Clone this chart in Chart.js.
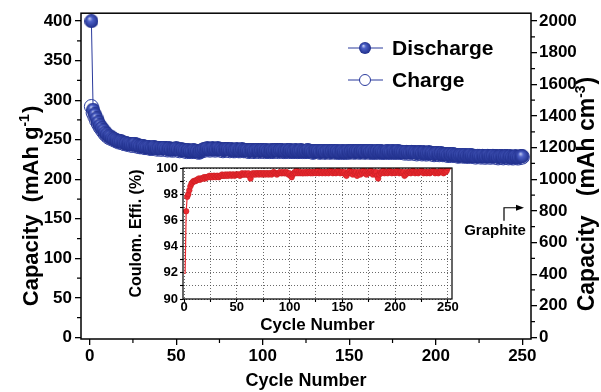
<!DOCTYPE html>
<html>
<head>
<meta charset="utf-8">
<script src="https://cdn.jsdelivr.net/npm/chart.js@4.4.0/dist/chart.umd.min.js"></script>
<style>
  html, body { margin: 0; padding: 0; background: #fff; }
  #wrap { position: relative; width: 601px; height: 392px; }
  #main { position: absolute; left: 0; top: 0; }
  #inset { position: absolute; left: 100px; top: 150px; }
</style>
</head>
<body>
<div id="wrap">
  <canvas id="main" width="601" height="392"></canvas>
  <canvas id="inset" width="370" height="190"></canvas>
</div>
<script>
// discharge / charge capacity (mAh g-1), cycle 1..250
const discharge = [
  400, 288, 282, 277, 272, 268, 265, 262, 259, 257,
  255, 254, 252, 251, 250, 249, 248, 248, 247, 246,
  246, 245, 245, 244, 244, 245, 243, 243, 242, 242,
  242, 241, 241, 241, 240, 240, 241, 240, 239, 240,
  239, 239, 240, 239, 238, 239, 238, 238, 238, 239,
  238, 237, 238, 237, 237, 236, 237, 236, 236, 237,
  236, 236, 235, 236, 237, 238, 238, 239, 238, 238,
  239, 238, 238, 239, 238, 238, 237, 238, 238, 238,
  237, 238, 237, 237, 238, 237, 237, 238, 237, 237,
  237, 236, 237, 237, 236, 237, 237, 236, 237, 237,
  236, 237, 236, 236, 237, 236, 237, 237, 236, 237,
  237, 236, 236, 237, 236, 237, 236, 236, 237, 236,
  236, 237, 236, 236, 236, 237, 236, 236, 235, 236,
  236, 236, 235, 236, 236, 235, 236, 236, 235, 236,
  236, 235, 236, 235, 235, 236, 235, 235, 236, 235,
  236, 236, 235, 236, 236, 235, 236, 236, 235, 236,
  236, 235, 236, 235, 235, 236, 235, 236, 235, 235,
  235, 236, 235, 235, 236, 235, 235, 236, 235, 235,
  235, 234, 235, 234, 234, 235, 234, 234, 233, 234,
  234, 233, 234, 233, 233, 234, 233, 233, 232, 233,
  233, 232, 233, 232, 232, 232, 231, 232, 231, 232,
  231, 231, 230, 231, 231, 230, 231, 230, 230, 231,
  230, 230, 229, 230, 230, 229, 230, 229, 229, 230,
  229, 229, 230, 229, 229, 228, 229, 229, 228, 229,
  229, 228, 229, 228, 228, 229, 228, 228, 229, 229
];
const charge = [
  292, 284, 279, 274, 270, 266, 263, 260, 257, 255,
  253, 252, 251, 250, 249, 248, 247, 247, 246, 245,
  245, 244, 244, 243, 243, 244, 242, 242, 241, 241,
  241, 240, 240, 240, 239, 239, 240, 239, 238, 239,
  238, 238, 239, 238, 237, 238, 237, 237, 237, 238,
  237, 236, 237, 236, 236, 235, 236, 235, 235, 236,
  235, 235, 234, 235, 236, 237, 237, 238, 237, 237,
  238, 237, 237, 238, 237, 237, 236, 237, 237, 237,
  236, 237, 236, 236, 237, 236, 236, 237, 236, 236,
  236, 235, 236, 236, 235, 236, 236, 235, 236, 236,
  235, 236, 235, 235, 236, 235, 236, 236, 235, 236,
  236, 235, 235, 236, 235, 236, 235, 235, 236, 235,
  235, 236, 235, 235, 235, 236, 235, 235, 234, 235,
  235, 235, 234, 235, 235, 234, 235, 235, 234, 235,
  235, 234, 235, 234, 234, 235, 234, 234, 235, 234,
  235, 235, 234, 235, 235, 234, 235, 235, 234, 235,
  235, 234, 235, 234, 234, 235, 234, 235, 234, 234,
  234, 235, 234, 234, 235, 234, 234, 235, 234, 234,
  234, 233, 234, 233, 233, 234, 233, 233, 232, 233,
  233, 232, 233, 232, 232, 233, 232, 232, 231, 232,
  232, 231, 232, 231, 231, 231, 230, 231, 230, 231,
  230, 230, 229, 230, 230, 229, 230, 229, 229, 230,
  229, 229, 228, 229, 229, 228, 229, 228, 228, 229,
  228, 228, 229, 228, 228, 227, 228, 228, 227, 228,
  228, 227, 228, 227, 227, 228, 227, 227, 228, 228
];
// coulombic efficiency (%)
const efficiency = [
  91.9, 96.7, 97.8, 98.0, 98.3, 98.6, 98.8, 98.9, 99.0, 99.0,
  99.0, 99.1, 99.1, 99.2, 99.1, 99.2, 99.2, 99.2, 99.3, 99.2,
  99.3, 99.3, 99.3, 99.4, 99.3, 99.4, 99.3, 99.4, 99.4, 99.3,
  99.4, 99.4, 99.3, 99.4, 99.4, 99.5, 99.4, 99.4, 99.5, 99.4,
  99.5, 99.4, 99.5, 99.5, 99.4, 99.5, 99.5, 99.4, 99.5, 99.5,
  99.5, 99.5, 99.4, 99.5, 99.6, 99.5, 99.5, 99.6, 99.5, 99.5,
  99.6, 99.4, 99.2, 99.5, 99.6, 99.5, 99.6, 99.5, 99.6, 99.6,
  99.5, 99.6, 99.6, 99.5, 99.6, 99.6, 99.5, 99.6, 99.6, 99.5,
  99.6, 99.6, 99.5, 99.6, 99.7, 99.6, 99.6, 99.5, 99.6, 99.6,
  99.7, 99.6, 99.6, 99.7, 99.6, 99.6, 99.7, 99.6, 99.5, 99.6,
  99.4, 99.3, 99.5, 99.6, 99.7, 99.6, 99.8, 99.6, 99.7, 99.6,
  99.7, 99.6, 99.6, 99.7, 99.6, 99.7, 99.6, 99.7, 99.7, 99.6,
  99.7, 99.6, 99.7, 99.7, 99.6, 99.7, 99.8, 99.6, 99.7, 99.7,
  99.6, 99.7, 99.7, 99.6, 99.7, 99.7, 99.6, 99.7, 99.8, 99.7,
  99.6, 99.7, 99.7, 99.6, 99.7, 99.8, 99.7, 99.6, 99.7, 99.7,
  99.6, 99.7, 99.5, 99.4, 99.6, 99.7, 99.8, 99.6, 99.7, 99.5,
  99.7, 99.6, 99.7, 99.4, 99.6, 99.7, 99.5, 99.7, 99.6, 99.8,
  99.6, 99.7, 99.5, 99.7, 99.6, 99.7, 99.8, 99.6, 99.5, 99.7,
  99.6, 99.7, 99.4, 99.2, 99.5, 99.7, 99.6, 99.7, 99.8, 99.6,
  99.7, 99.7, 99.6, 99.7, 99.8, 99.7, 99.6, 99.7, 99.7, 99.6,
  99.7, 99.8, 99.7, 99.6, 99.7, 99.7, 99.6, 99.7, 99.4, 99.5,
  99.7, 99.6, 99.7, 99.7, 99.6, 99.7, 99.8, 99.7, 99.6, 99.7,
  99.7, 99.6, 99.7, 99.7, 99.8, 99.7, 99.6, 99.7, 99.7, 99.6,
  99.7, 99.7, 99.6, 99.7, 99.7, 99.8, 99.7, 99.6, 99.7, 99.7,
  99.6, 99.7, 99.7, 99.8, 99.7, 99.6, 99.7, 99.7, 99.8, 100.0
];
const cycles = discharge.map((_, i) => i + 1);

const xTicks = [0, 50, 100, 150, 200, 250];
const xMinorTicks = [25, 75, 125, 175, 225];
const leftTicks = [0, 50, 100, 150, 200, 250, 300, 350, 400];
const leftMinorTicks = [25, 75, 125, 175, 225, 275, 325, 375];
const rightTicks = [0, 200, 400, 600, 800, 1000, 1200, 1400, 1600, 1800, 2000];
const rightMinorTicks = [100, 300, 500, 700, 900, 1100, 1300, 1500, 1700, 1900];
const insetXTicks = [0, 25, 50, 75, 100, 125, 150, 175, 200, 225, 250];
const insetYTicks = [90, 91, 92, 93, 94, 95, 96, 97, 98, 99, 100];
const graphiteLevel = 820; // mAh cm-3

const FONT = '"Liberation Sans", Arial, "DejaVu Sans", sans-serif';
const blue = '#2a3a9c';
const red = '#ec2a30';

function makeBall(r) {
  const c = document.createElement('canvas');
  c.width = c.height = r * 2;
  const g = c.getContext('2d');
  const grad = g.createRadialGradient(r * 0.7, r * 0.6, 0, r, r, r);
  grad.addColorStop(0, '#d4dbf6');
  grad.addColorStop(0.35, '#4e62c8');
  grad.addColorStop(1, '#1f2e8a');
  g.fillStyle = grad;
  g.beginPath();
  g.arc(r, r, r, 0, Math.PI * 2);
  g.fill();
  return c;
}
const ball = makeBall(7);
const legendBall = makeBall(6);

// rotated axis title with a superscript part, reading bottom to top
function drawTitle(ctx, cx, cy, main, sup, tail, size) {
  const big = 'bold ' + size + 'px ' + FONT;
  const small = 'bold ' + Math.round(size * 0.62) + 'px ' + FONT;
  ctx.save();
  ctx.translate(cx, cy);
  ctx.rotate(-Math.PI / 2);
  ctx.fillStyle = '#000';
  ctx.textBaseline = 'alphabetic';
  ctx.font = big;
  const w1 = ctx.measureText(main).width;
  const w3 = ctx.measureText(tail).width;
  ctx.font = small;
  const w2 = ctx.measureText(sup).width;
  let x = -(w1 + w2 + w3 + 1) / 2;
  const base = size * 0.36;
  ctx.font = big;
  ctx.fillText(main, x, base);
  x += w1;
  ctx.font = small;
  ctx.fillText(sup, x, base - size * 0.42);
  x += w2 + 1;
  ctx.font = big;
  ctx.fillText(tail, x, base);
  ctx.restore();
}

const setTicks = list => scale => { scale.ticks = list.map(v => ({ value: v })); };
const tickFont = { family: FONT, size: 17, weight: 'bold' };
const axisGrid = { display: true, drawOnChartArea: false, drawTicks: true, tickLength: 6, color: '#000', lineWidth: 1.3 };

const mainDecor = {
  id: 'mainDecor',
  afterDraw(chart) {
    const { ctx, chartArea: a, scales } = chart;
    ctx.save();
    ctx.strokeStyle = '#000';
    ctx.lineWidth = 1.5;
    ctx.strokeRect(a.left, a.top, a.right - a.left, a.bottom - a.top);

    // minor ticks
    ctx.lineWidth = 1.2;
    ctx.beginPath();
    leftMinorTicks.forEach(v => {
      const y = scales.y.getPixelForValue(v);
      ctx.moveTo(a.left, y); ctx.lineTo(a.left - 4, y);
    });
    rightMinorTicks.forEach(v => {
      const y = scales.yRight.getPixelForValue(v);
      ctx.moveTo(a.right, y); ctx.lineTo(a.right + 4, y);
    });
    xMinorTicks.forEach(v => {
      const x = scales.x.getPixelForValue(v);
      ctx.moveTo(x, a.bottom); ctx.lineTo(x, a.bottom + 4);
    });
    ctx.stroke();

    // y titles
    drawTitle(ctx, 30, 206, 'Capacity  (mAh g', '-1', ')', 22);
    drawTitle(ctx, 586, 194, 'Capacity   (mAh cm', '-3', ')', 23);

    // legend
    const items = [['Discharge', 48, true], ['Charge', 80, false]];
    ctx.font = 'bold 21px ' + FONT;
    ctx.textBaseline = 'middle';
    items.forEach(([label, y, filled]) => {
      ctx.strokeStyle = blue;
      ctx.lineWidth = 1;
      ctx.beginPath();
      ctx.moveTo(348, y); ctx.lineTo(383, y);
      ctx.stroke();
      if (filled) {
        ctx.drawImage(legendBall, 365 - 6, y - 6);
      } else {
        ctx.fillStyle = '#fff';
        ctx.beginPath();
        ctx.arc(365, y, 5.5, 0, Math.PI * 2);
        ctx.fill();
        ctx.stroke();
      }
      ctx.fillStyle = '#000';
      ctx.fillText(label, 392, y + 1);
    });

    // graphite marker
    const gy = scales.yRight.getPixelForValue(graphiteLevel);
    ctx.strokeStyle = '#000';
    ctx.fillStyle = '#000';
    ctx.lineWidth = 1.2;
    ctx.beginPath();
    ctx.moveTo(504, gy + 13); ctx.lineTo(504, gy); ctx.lineTo(517, gy);
    ctx.stroke();
    ctx.beginPath();
    ctx.moveTo(524, gy); ctx.lineTo(516, gy - 3); ctx.lineTo(516, gy + 3);
    ctx.closePath();
    ctx.fill();
    ctx.font = 'bold 15px ' + FONT;
    ctx.textAlign = 'center';
    ctx.fillText('Graphite', 495, gy + 23);
    ctx.restore();
  }
};

new Chart(document.getElementById('main'), {
  type: 'line',
  data: {
    datasets: [
      {
        label: 'Discharge',
        data: cycles.map((c, i) => ({ x: c, y: discharge[i] })),
        borderColor: blue,
        borderWidth: 1,
        pointStyle: ball,
        pointRadius: 7,
        yAxisID: 'y'
      },
      {
        label: 'Charge',
        data: cycles.map((c, i) => ({ x: c, y: charge[i] })),
        borderColor: blue,
        borderWidth: 1,
        pointStyle: 'circle',
        pointRadius: 7,
        pointBackgroundColor: '#fff',
        pointBorderColor: blue,
        pointBorderWidth: 1,
        yAxisID: 'y'
      }
    ]
  },
  options: {
    responsive: false,
    animation: false,
    layout: { padding: { top: 12, left: 0, right: 0, bottom: 0 } },
    plugins: { legend: { display: false }, tooltip: { enabled: false } },
    scales: {
      x: {
        type: 'linear', min: -5, max: 255,
        afterBuildTicks: setTicks(xTicks),
        afterFit: s => { s.height = 53; },
        grid: axisGrid,
        border: { display: false },
        ticks: { font: tickFont, color: '#000', padding: 1, maxRotation: 0, autoSkip: false },
        title: { display: true, text: 'Cycle Number', color: '#000', font: { family: FONT, size: 18, weight: 'bold' }, padding: { top: 0, bottom: 0 } }
      },
      y: {
        position: 'left', min: -2, max: 410,
        afterBuildTicks: setTicks(leftTicks),
        afterFit: s => { s.width = 81; },
        grid: axisGrid,
        border: { display: false },
        ticks: { font: tickFont, color: '#000', padding: 3, autoSkip: false }
      },
      yRight: {
        position: 'right', min: -10, max: 2050,
        afterBuildTicks: setTicks(rightTicks),
        afterFit: s => { s.width = 70; },
        grid: axisGrid,
        border: { display: false },
        ticks: { font: tickFont, color: '#000', padding: 2, autoSkip: false, callback: v => String(v) }
      }
    }
  },
  plugins: [mainDecor]
});

const insetFrame = {
  id: 'insetFrame',
  afterDraw(chart) {
    const { ctx, chartArea: a } = chart;
    ctx.save();
    ctx.strokeStyle = '#000';
    ctx.lineWidth = 1.2;
    ctx.strokeRect(a.left, a.top, a.right - a.left, a.bottom - a.top);
    ctx.restore();
  }
};

const insetGrid = { display: true, drawOnChartArea: true, drawTicks: true, tickLength: 3, color: '#444', lineWidth: 0.8, tickColor: '#000', tickWidth: 1.1 };
const insetTickFont = { family: FONT, size: 13, weight: 'bold' };

new Chart(document.getElementById('inset'), {
  type: 'line',
  data: {
    datasets: [{
      label: 'Coulombic efficiency',
      data: cycles.map((c, i) => ({ x: c, y: efficiency[i] })),
      borderColor: red,
      borderWidth: 1.2,
      pointRadius: ctx => (ctx.dataIndex === 0 ? 0 : 2.8),
      pointBackgroundColor: red,
      pointBorderColor: '#c81e24',
      pointBorderWidth: 0.6
    }]
  },
  options: {
    responsive: false,
    animation: false,
    layout: { padding: { top: 18, right: 18, left: 0, bottom: 0 } },
    plugins: { legend: { display: false }, tooltip: { enabled: false } },
    scales: {
      x: {
        type: 'linear', min: -1, max: 254,
        afterBuildTicks: setTicks(insetXTicks),
        afterFit: s => { s.height = 41; },
        grid: insetGrid,
        border: { display: false, dash: [1, 2] },
        ticks: { font: insetTickFont, color: '#000', padding: -2, maxRotation: 0, autoSkip: false,
          callback: v => (v % 50 === 0 ? v : '') },
        title: { display: true, text: 'Cycle Number', color: '#000', font: { family: FONT, size: 17, weight: 'bold' }, padding: { top: 0, bottom: 4 } }
      },
      y: {
        min: 90, max: 100,
        afterBuildTicks: setTicks(insetYTicks),
        afterFit: s => { s.width = 83; },
        grid: insetGrid,
        border: { display: false, dash: [1, 2] },
        ticks: { font: insetTickFont, color: '#000', padding: 2, autoSkip: false,
          callback: v => (v % 2 === 0 ? v : '') },
        title: { display: true, text: 'Coulom. Effi. (%)', color: '#000', font: { family: FONT, size: 16, weight: 'bold' }, padding: { top: 27, bottom: 0 } }
      }
    }
  },
  plugins: [insetFrame]
});
</script>
</body>
</html>
